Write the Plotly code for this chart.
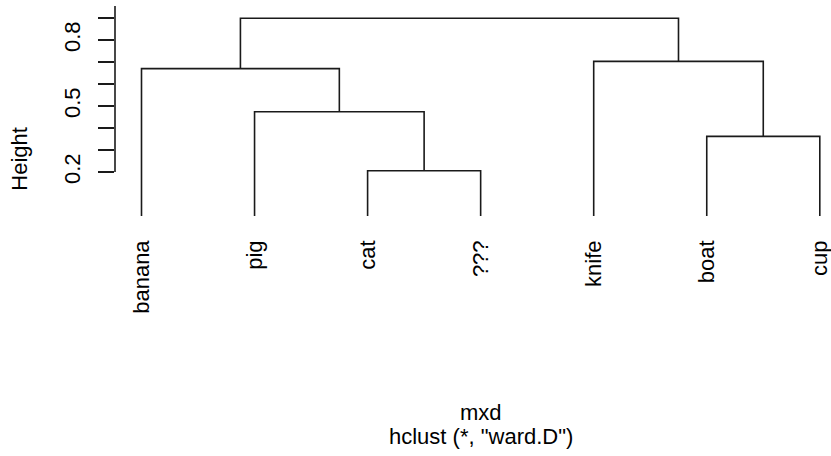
import plotly.graph_objects as go

# Leaf labels in dendrogram order
labels = ["banana", "pig", "cat", "???", "knife", "boat", "cup"]
# R-style merge matrix: negative = leaf index (1-based, in order), positive = earlier merge step
merge_left = [-3, -6, -2, -1, -5, 4]
merge_right = [-4, -7, 1, 3, 2, 5]
merge_height = [0.206, 0.362, 0.474, 0.670, 0.703, 0.899]

y_ticks = [0.2, 0.3, 0.4, 0.5, 0.6, 0.7, 0.8, 0.9]
y_tick_text = ["0.2", "", "", "0.5", "", "", "0.8", ""]

# compute node positions
node_x = {}
node_h = {}
def pos(i):
    if i < 0:
        return float(-i), 0.0
    return node_x[i], node_h[i]

xs, ys = [], []
for k, (a, b, h) in enumerate(zip(merge_left, merge_right, merge_height), start=1):
    xa, ha = pos(a)
    xb, hb = pos(b)
    xs += [xa, xa, xb, xb, None]
    ys += [ha, h, h, hb, None]
    node_x[k] = (xa + xb) / 2
    node_h[k] = h

FONT = "Liberation Sans, Arial, sans-serif"
fig = go.Figure()
fig.add_trace(go.Scatter(x=xs, y=ys, mode="lines",
                         line=dict(color="#1a1a1a", width=1.6),
                         hoverinfo="skip", showlegend=False))

x_left = 0.7656
x_right = x_left + 716 / 113.05
y_top = 210 / 220

fig.update_layout(
    width=831, height=456,
    margin=dict(l=115, r=0, t=6, b=240),
    paper_bgcolor="white", plot_bgcolor="white",
    font=dict(family=FONT, size=22, color="#000"),
    xaxis=dict(range=[x_left, x_right], showgrid=False, zeroline=False,
               showline=False, tickmode="array",
               tickvals=list(range(1, len(labels) + 1)), ticktext=labels,
               tickangle=-90, ticks="", ticklabelstandoff=19,
               ticklabeloverflow="allow",
               tickfont=dict(family=FONT, size=22, color="#000")),
    yaxis=dict(range=[0, y_top], showgrid=False, zeroline=False,
               showline=False, tickmode="array", tickvals=y_ticks,
               ticktext=y_tick_text, ticks="outside", ticklen=16,
               tickwidth=1.6, tickcolor="#1a1a1a", tickangle=-90,
               ticklabelstandoff=9,
               tickfont=dict(family=FONT, size=22, color="#000")),
    shapes=[dict(type="line", xref="paper", yref="y", x0=0, x1=0,
                 y0=y_ticks[0], y1=y_top,
                 line=dict(color="#1a1a1a", width=1.6))],
    annotations=[
        dict(text="Height", xref="paper", yref="paper", x=-0.1327, y=0.273,
             textangle=-90, showarrow=False, xanchor="center", yanchor="middle",
             font=dict(family=FONT, size=22, color="#000")),
        dict(text="mxd", xref="x", yref="paper", x=4, y=-(412 - 216) / 210,
             showarrow=False, xanchor="center", yanchor="middle",
             font=dict(family=FONT, size=22, color="#000")),
        dict(text='hclust (*, "ward.D")', xref="x", yref="paper", x=4,
             y=-(437 - 216) / 210, showarrow=False, xanchor="center",
             yanchor="middle", font=dict(family=FONT, size=22, color="#000")),
    ],
)
fig.write_html("out.html")
